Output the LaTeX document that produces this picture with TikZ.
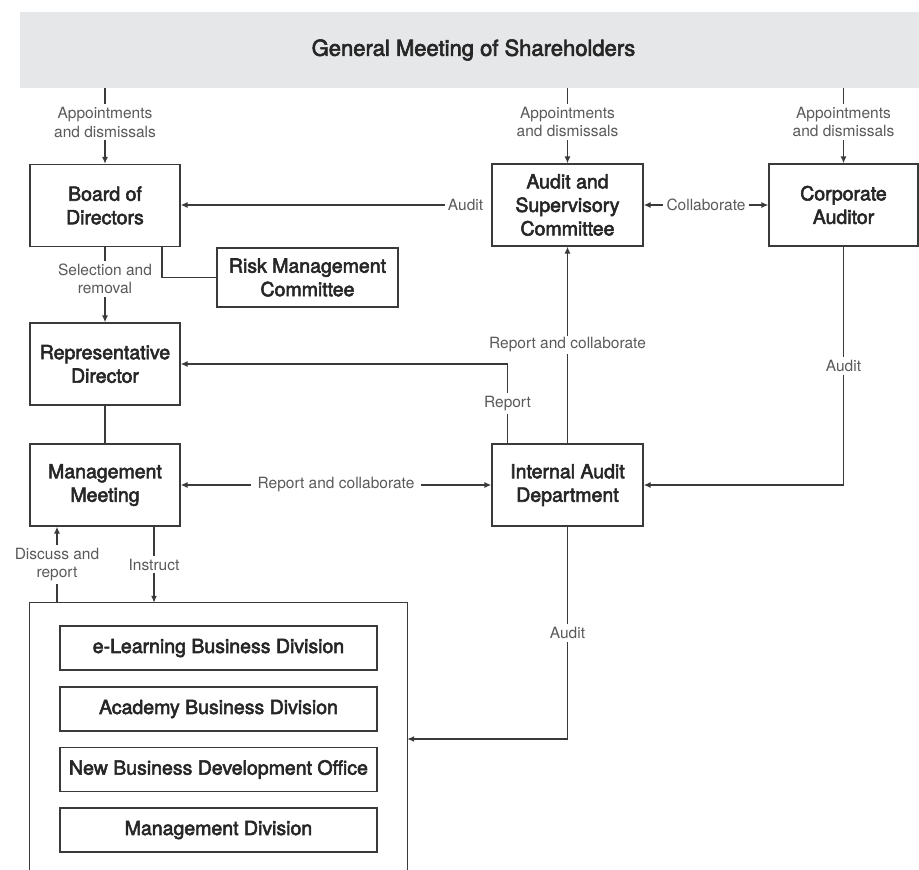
\documentclass[tikz,border=0pt]{standalone}
\usepackage{fontspec}
\setmainfont{TeX Gyre Heros}
\newfontfamily\boxfont[FakeBold=2.8]{TeX Gyre Heros}
\usetikzlibrary{arrows.meta}
\definecolor{ink}{HTML}{262626}
\definecolor{linec}{HTML}{3A3A3A}
\definecolor{lblc}{HTML}{5A5A5A}
\definecolor{bannerc}{HTML}{E6E7E8}

\begin{document}
\begin{tikzpicture}[x=1pt,y=-1pt,
  unit/.style={draw=linec, line width=1.3pt, fill=white, text=ink, align=center,
    inner sep=0pt, minimum width=150, minimum height=82,
    font=\boxfont\fontsize{19.5}{23.5}\selectfont},
  division/.style={unit, minimum width=317, minimum height=44},
  flow/.style={draw=linec, line width=1.3pt},
  tip/.style={flow, -{Latex[length=7pt,width=6pt]}},
  tips/.style={flow, {Latex[length=7pt,width=6pt]}-{Latex[length=7pt,width=6pt]}},
  tag/.style={fill=white, text=lblc, align=center, inner sep=3pt,
    font=\fontsize{15.5}{18.5}\selectfont},
]
\useasboundingbox (0,0) rectangle (919,870);

% shareholders' meeting banner
\node (gm) [fill=bannerc, minimum width=907, minimum height=76, inner sep=0pt,
  text=ink, font=\boxfont\fontsize{22}{26}\selectfont] at (473.5,50)
  {General Meeting of Shareholders};

% governance bodies
\node (board) [unit] at (105,205.5) {Board of\\Directors};
\node (risk)  [unit, minimum width=181, minimum height=59] at (307.5,277.5) {Risk Management\\Committee};
\node (rep)   [unit] at (105,364) {Representative\\Director};
\node (mm)    [unit] at (105,485) {Management\\Meeting};
\node (asc)   [unit, minimum width=151] at (567.5,205) {Audit and\\Supervisory\\Committee};
\node (ca)    [unit, minimum width=149] at (843.5,205) {Corporate\\Auditor};
\node (iad)   [unit, minimum width=151] at (567.5,485) {Internal Audit\\Department};

% business divisions (container open at the bottom)
\node (biz) [minimum width=377, minimum height=272, inner sep=0pt] at (218.5,739) {};
\draw[flow] (biz.south west) -- (biz.north west) -- (biz.north east) -- (biz.south east);
\node (d1) [division] at (218.5,648)   {e-Learning Business Division};
\node (d2) [division] at (218.5,709)   {Academy Business Division};
\node (d3) [division] at (218.5,769.5) {New Business Development Office};
\node (d4) [division] at (218.5,830)   {Management Division};

% appointments from the shareholders
\draw[tip] (gm.south -| board.north) -- (board.north)
  node[tag, pos=0.45] {Appointments\\and dismissals};
\draw[tip] (gm.south -| asc.north) -- (asc.north)
  node[tag, pos=0.45] {Appointments\\and dismissals};
\draw[tip] (gm.south -| ca.north) -- (ca.north)
  node[tag, pos=0.45] {Appointments\\and dismissals};

% audit of the board
\node (auditTag) [tag, anchor=east] at ([xshift=-5]asc.west) {Audit};
\draw[tip] (auditTag.west) -- (auditTag.west -| board.east);

% collaboration between auditors
\draw[tips] (asc.east) -- (ca.west) node[tag, midway, inner sep=4pt] {Collaborate};

% board relations
\draw[flow] ([xshift=57]board.south) |- (risk.west);
\draw[tip] (board.south) -- (rep.north) node[tag, pos=0.42] {Selection and\\removal};
\draw[flow] (rep.south) -- (mm.north);

% internal audit reporting lines
\draw[tip] (iad.north) -- (asc.south)
  node[tag, midway, inner sep=2pt] {Report and collaborate};
\draw[tip] ([xshift=-60]iad.north) |- (rep.east) node[tag, pos=0.25] {Report};
\draw[tips] (mm.east) -- (iad.west)
  node[tag, midway, inner sep=7pt] {Report and collaborate};
\draw[tip] (ca.south) |- (iad.east) node[tag, pos=0.25] {Audit};
\draw[tip] (iad.south) |- (biz.east) node[tag, pos=0.25] {Audit};

% management meeting and divisions
\coordinate (dr) at ([xshift=-48]mm.south);
\coordinate (ins) at ([xshift=49]mm.south);
\draw[tip] (dr |- biz.north) -- (dr) node[tag, midway] {Discuss and\\report};
\draw[tip] (ins) -- (ins |- biz.north) node[tag, midway] {Instruct};
\end{tikzpicture}
\end{document}
